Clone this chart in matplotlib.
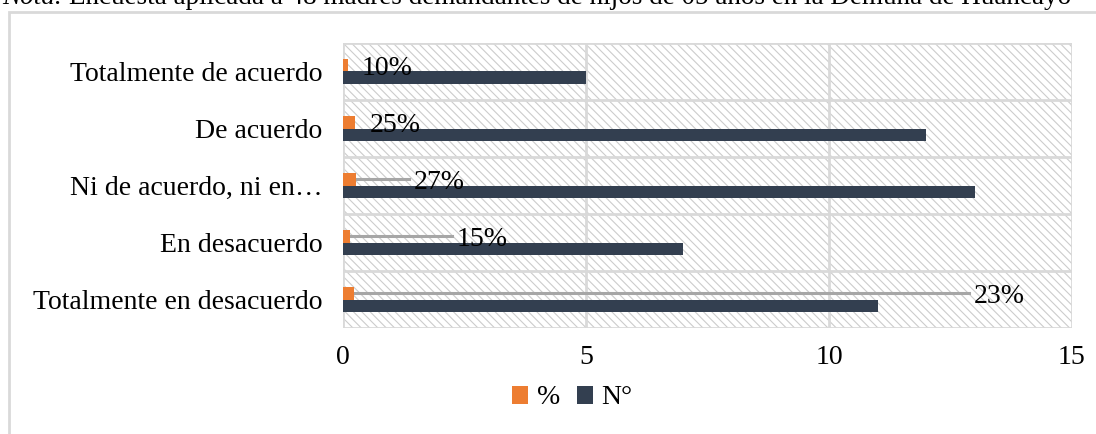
import matplotlib.pyplot as plt
from matplotlib.patches import Rectangle
import numpy as np

plt.rcParams['font.family'] = ['Liberation Serif', 'DejaVu Serif']
plt.rcParams['hatch.color'] = '#CCCCCC'
plt.rcParams['hatch.linewidth'] = 0.8

# data (bottom to top)
categorias = ['Totalmente en desacuerdo', 'En desacuerdo', 'Ni de acuerdo, ni en…',
              'De acuerdo', 'Totalmente de acuerdo']
n_valores = [11, 7, 13, 12, 5]
pct_valores = [0.23, 0.15, 0.27, 0.25, 0.10]
pct_textos = ['23%', '15%', '27%', '25%', '10%']
# label positions (x in data units) for the % labels
pct_label_x = [13.5, 2.87, 1.97, 1.07, 0.9]

naranja = '#ED7D31'
oscuro = '#333F50'
gris = '#D9D9D9'

fig = plt.figure(figsize=(10.96, 4.34), dpi=100)
ax = fig.add_axes([0.313, 0.244, 0.665, 0.657])

# chart area frame
fig.patches.append(Rectangle((0.008, -0.05), 1.05, 1.022, transform=fig.transFigure,
                             fill=False, edgecolor=gris, linewidth=2))

fig.text(0.002, 0.99, 'Nota.', fontsize=19.5, style='italic', va='baseline', ha='left')
fig.text(0.063, 0.99, 'Encuesta aplicada a 48 madres demandantes de hijos de 05 años en la Demuna de Huancayo',
         fontsize=19.5, va='baseline', ha='left')

# hatched background
ax.add_patch(Rectangle((0, 0), 1, 1, transform=ax.transAxes, facecolor='white',
                       edgecolor='#CCCCCC', hatch='\\\\\\\\', linewidth=0, zorder=0))

y = np.arange(len(categorias))
h = 0.22
ax.barh(y + 0.11, pct_valores, height=h, color=naranja, label='%', zorder=3)
ax.barh(y - 0.11, n_valores, height=h, color=oscuro, label='N°', zorder=3)

for i in range(len(categorias)):
    tx = pct_label_x[i]
    yy = y[i] + 0.11
    if tx - pct_valores[i] > 1.0:
        ax.plot([pct_valores[i], tx - 0.62], [yy, yy], color='#A6A6A6', linewidth=2.2, zorder=2)
    ax.text(tx, yy, pct_textos[i], fontsize=20, ha='center', va='center_baseline', zorder=4)

ax.set_xlim(0, 15)
ax.set_ylim(-0.5, 4.5)
ax.set_xticks([0, 5, 10, 15])
ax.set_yticks(y)
ax.set_yticklabels(categorias)
ax.tick_params(axis='y', length=0, pad=15, labelsize=20)
ax.tick_params(axis='x', length=0, pad=12, labelsize=20)

for yb in np.arange(-0.5, 5, 1):
    ax.axhline(yb, color=gris, linewidth=2, zorder=1)
for xv in [0, 5, 10, 15]:
    ax.axvline(xv, color=gris, linewidth=2, zorder=1)
for s in ax.spines.values():
    s.set_visible(False)

leg = fig.legend(loc='center', bbox_to_anchor=(0.522, 0.083), ncol=2, frameon=False,
                 fontsize=20, handlelength=0.6, handleheight=0.6, handletextpad=0.3,
                 columnspacing=0.6)

fig.savefig('out.png', dpi=100)
